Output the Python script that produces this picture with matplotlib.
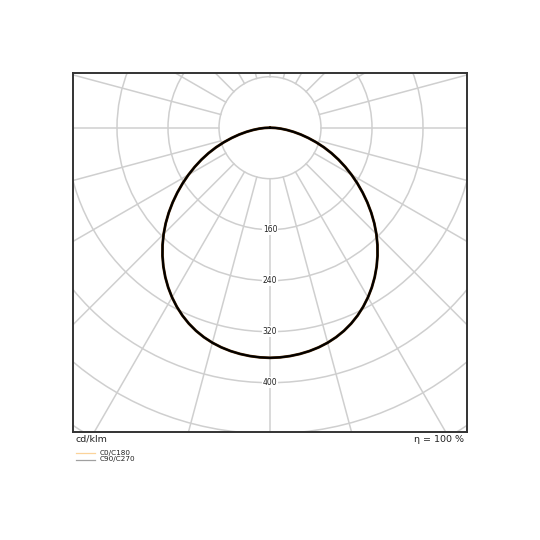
import numpy as np
import matplotlib
matplotlib.use("Agg")
import matplotlib.pyplot as plt
from matplotlib.patches import Circle
from matplotlib.lines import Line2D

# Luminous intensity distribution (cd/klm), gamma angles in degrees
gamma = [0, 2.5, 5, 7.5, 10, 12.5, 15, 17.5, 20, 22.5, 25, 27.5, 30, 32.5, 35, 37.5,
         40, 42.5, 45, 47.5, 50, 52.5, 55, 57.5, 60, 62.5, 65, 67.5, 70, 72.5, 75,
         77.5, 80, 82.5, 85, 87.5, 90]
c0_c180 = [361, 360.6, 359.6, 358.0, 355.8, 352.9, 349.2, 344.6, 339.1, 332.6, 325.1,
           316.6, 307.3, 297.2, 286.3, 274.7, 262.4, 249.5, 236.0, 221.9, 207.3, 192.4,
           177.4, 162.5, 147.7, 133.1, 118.7, 104.4, 90.1, 75.9, 62.2, 49.5, 37.5,
           26.5, 16.9, 8.3, 0]
c90_c270 = [361, 360.6, 359.6, 358.0, 355.8, 352.9, 349.2, 344.6, 339.1, 332.6, 325.1,
            316.6, 307.3, 297.2, 286.3, 274.7, 262.4, 249.5, 236.0, 221.9, 207.3, 192.4,
            177.4, 162.5, 147.7, 133.1, 118.7, 104.4, 90.1, 75.9, 62.2, 49.5, 37.5,
            26.5, 16.9, 8.3, 0]
ring_values = [80, 160, 240, 320, 400, 480, 560, 640]
ring_labels = ["160", "240", "320", "400"]
series_names = ["C0/C180", "C90/C270"]
unit_label = "cd/klm"
eta_label = "η = 100 %"

fig = plt.figure(figsize=(5.4, 5.4), dpi=100)
W = H = 540.0
L, R, T, B = 72.7, 467.3, 72.7, 432.3
ax = fig.add_axes([L / W, 1 - B / H, (R - L) / W, (B - T) / H])

scale = 80 / 51.0  # units per pixel
cx = 270.0
cy = 127.7
ax.set_xlim((L - cx) * scale, (R - cx) * scale)
ax.set_ylim(-(B - cy) * scale, (cy - T) * scale)
ax.set_aspect("equal")
ax.set_xticks([])
ax.set_yticks([])
for s in ax.spines.values():
    s.set_color("#333333")
    s.set_linewidth(1.4)
    s.set_zorder(10)

grid_c = "#cfcfcf"
for r in ring_values:
    ax.add_patch(Circle((0, 0), r, fill=False, edgecolor=grid_c, linewidth=1.1, zorder=1))
for a in range(0, 360, 15):
    t = np.deg2rad(a)
    r0, r1 = ring_values[0], 900
    ax.plot([r0 * np.sin(t), r1 * np.sin(t)], [-r0 * np.cos(t), -r1 * np.cos(t)],
            color=grid_c, linewidth=1.1, zorder=1)

for lab in ring_labels:
    v = float(lab)
    ax.text(0, -v, lab, fontsize=5.5, ha="center", va="center", color="#222222",
            bbox=dict(facecolor="white", edgecolor="none", pad=0.6), zorder=3)

g = np.deg2rad(np.array(gamma, dtype=float))
def curve(vals):
    v = np.array(vals, dtype=float)
    xr = v * np.sin(g)
    yr = -v * np.cos(g)
    x = np.concatenate([-xr[::-1], xr[1:]])
    y = np.concatenate([yr[::-1], yr[1:]])
    return x, y

x0, y0 = curve(c0_c180)
x1, y1 = curve(c90_c270)
ax.plot(x0, y0, color="#4a2500", linewidth=2.0, zorder=4,
        solid_joinstyle="round", solid_capstyle="round")
ax.plot(x1, y1, color="#000000", linewidth=1.4, zorder=5,
        solid_joinstyle="round", solid_capstyle="round")

fig.text(76 / W, 1 - 439 / H, unit_label, fontsize=6.8, ha="left", va="center", color="#222222")
fig.text(463.5 / W, 1 - 439 / H, eta_label, fontsize=6.8, ha="right", va="center", color="#222222")

leg_cols = ["#fbd39a", "#a0a0a0"]
leg_y = [453.0, 459.5]
for name, col, yy in zip(series_names, leg_cols, leg_y):
    fig.add_artist(Line2D([76 / W, 95 / W], [1 - yy / H, 1 - yy / H], color=col, linewidth=0.9))
    fig.text(100 / W, 1 - yy / H, name, fontsize=5.2, ha="left", va="center", color="#222222")

fig.savefig("out.png", dpi=100, facecolor="white")
